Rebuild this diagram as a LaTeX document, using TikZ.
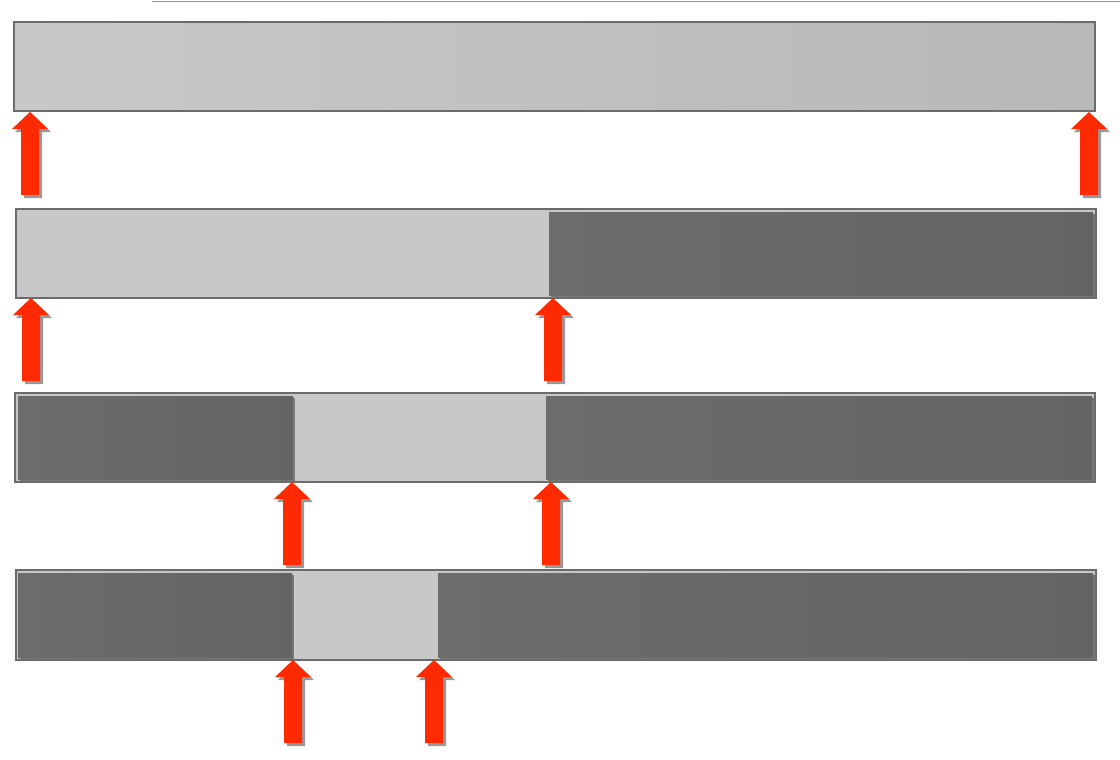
\documentclass[tikz,border=0pt]{standalone}
\usepackage{tikz}
\usetikzlibrary{shadows}
\definecolor{barlight}{HTML}{C8C8C8}
\definecolor{barlightend}{HTML}{B8B8B8}
\definecolor{barrim}{HTML}{6B6B6B}
\definecolor{bardark}{HTML}{6C6C6C}
\definecolor{bardarkend}{HTML}{646464}
\definecolor{arrowred}{HTML}{FF2A00}

% red up arrow, tip at (#1,#2)
\newcommand{\markarrow}[2]{%
  \fill[arrowred,arrowshadow]
  (#1,#2) -- ++(18,17) -- ++(-9,0) -- ++(0,66) -- ++(-18,0)
  -- ++(0,-66) -- ++(-9,0) -- cycle;}

\begin{document}
\begin{tikzpicture}[x=1pt,y=-1pt,
  bar/.style={draw=barrim,line width=2pt,fill=barlight},
  darkpart/.style={left color=bardark,right color=bardarkend,
    drop shadow={shadow xshift=2pt,shadow yshift=-2pt,fill=black,opacity=0.4}},
  arrowshadow/.style={drop shadow={shadow xshift=3pt,shadow yshift=-3pt,fill=black,opacity=0.4}}]
  \useasboundingbox (0,0) rectangle (1120,760);
  \draw[gray!85,line width=1pt]
  (152,2) -- (1120,2);
  % whole range
  \draw[bar,left color=barlight,right color=barlightend]
  (14,22) rectangle (1095,111);
  \markarrow{30}{112}
  \markarrow{1089}{112}
  % first halving
  \draw[bar]
  (16,209) rectangle (1096,298);
  \fill[darkpart]
  (549,212) rectangle (1093,295);
  \markarrow{31}{298}
  \markarrow{553}{298}
  % second halving
  \draw[bar]
  (15,393) rectangle (1095,482);
  \fill[darkpart]
  (18,396) rectangle (293,479);
  \fill[darkpart]
  (546,396) rectangle (1092,479);
  \markarrow{292}{482}
  \markarrow{551}{482}
  % third halving
  \draw[bar]
  (16,570) rectangle (1096,660);
  \fill[darkpart]
  (18,573) rectangle (292,657);
  \fill[darkpart]
  (438,573) rectangle (1093,657);
  \markarrow{293}{660}
  \markarrow{434}{660}
\end{tikzpicture}
\end{document}
